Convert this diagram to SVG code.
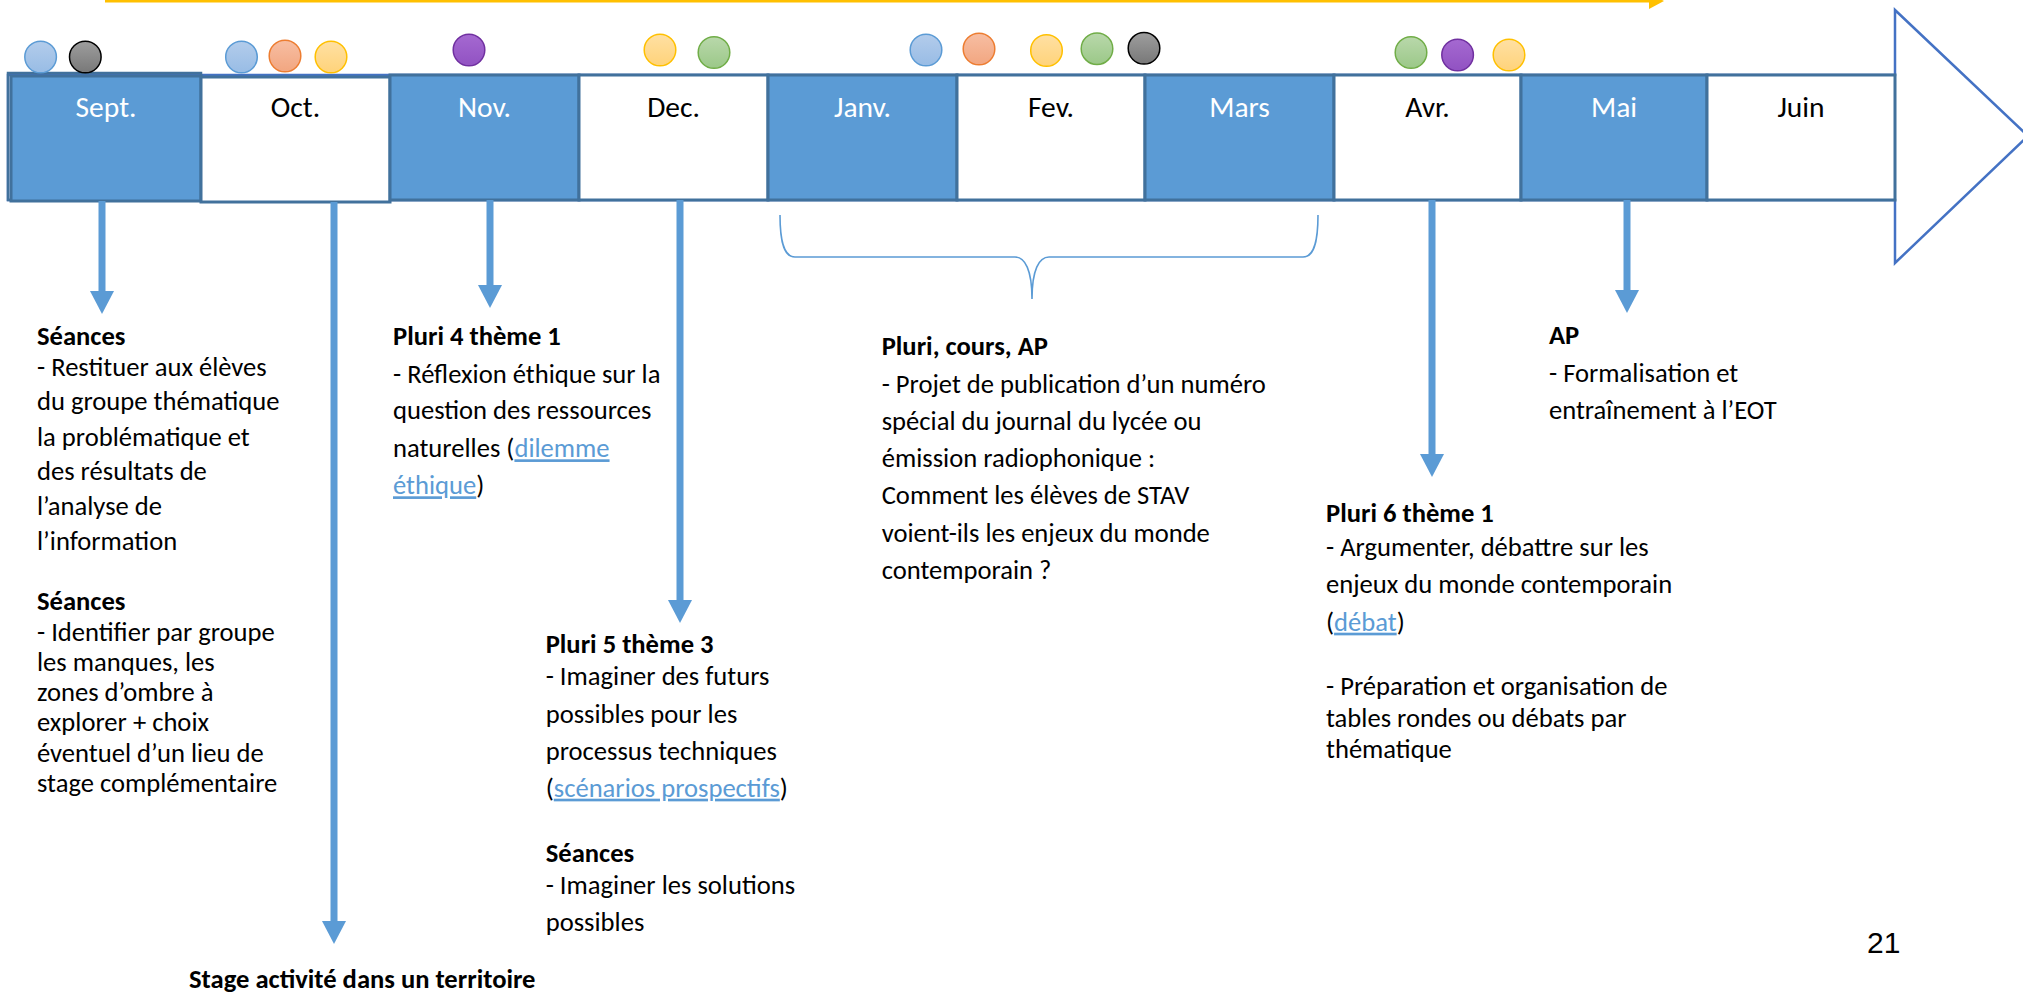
<svg xmlns="http://www.w3.org/2000/svg" width="2023" height="992" viewBox="0 0 2023 992">
<style>
.t{font-family:Carlito,Lato,"Liberation Sans",sans-serif;font-size:26.6px;fill:#000}
.b{font-weight:bold}
.lnk{fill:#5B9BD5;text-decoration:underline}
.m{font-family:Carlito,Lato,"Liberation Sans",sans-serif;font-size:29.5px;text-anchor:middle}
.mw{fill:#fff}.mk{fill:#000}
.bx{fill:#5B9BD5;stroke:#41719C;stroke-width:3}
.wx{fill:#fff;stroke:#41719C;stroke-width:3}
.cn{stroke:#5B9BD5;stroke-width:7;fill:none}
.dot{stroke-width:1.5}
</style>
<defs>
<marker id="ah" markerUnits="userSpaceOnUse" markerWidth="23" markerHeight="24" viewBox="0 0 23 24" refX="1" refY="12" orient="auto">
<path d="M0,0 L23,12 L0,24 z" fill="#5B9BD5"/>
</marker>
<marker id="yh" markerUnits="userSpaceOnUse" markerWidth="15" markerHeight="16" viewBox="0 0 15 16" refX="1" refY="8" orient="auto">
<path d="M0,0 L15,8 L0,16 z" fill="#FFC000"/>
</marker>
<linearGradient id="glb" x1="0" y1="0" x2="0" y2="1"><stop offset="0" stop-color="#B3CCEB"/><stop offset="1" stop-color="#98BCE5"/></linearGradient>
<linearGradient id="ggr" x1="0" y1="0" x2="0" y2="1"><stop offset="0" stop-color="#9E9E9E"/><stop offset="1" stop-color="#787878"/></linearGradient>
<linearGradient id="gor" x1="0" y1="0" x2="0" y2="1"><stop offset="0" stop-color="#F7BEA3"/><stop offset="1" stop-color="#F2A680"/></linearGradient>
<linearGradient id="gye" x1="0" y1="0" x2="0" y2="1"><stop offset="0" stop-color="#FFE0A3"/><stop offset="1" stop-color="#FFD37A"/></linearGradient>
<linearGradient id="ggn" x1="0" y1="0" x2="0" y2="1"><stop offset="0" stop-color="#B9D8AB"/><stop offset="1" stop-color="#9BC888"/></linearGradient>
<linearGradient id="gpu" x1="0" y1="0" x2="0" y2="1"><stop offset="0" stop-color="#A569D1"/><stop offset="1" stop-color="#9152C2"/></linearGradient>
</defs>
<rect width="2023" height="992" fill="#fff"/>

<!-- yellow top arrow -->
<line x1="105" y1="1" x2="1650" y2="1" stroke="#FFC000" stroke-width="3" marker-end="url(#yh)"/>

<!-- timeline arrow -->
<g id="timeline">
<polygon points="8,75 1895,75 1895,10 2028,136 1895,263 1895,200 8,200" fill="#fff" stroke="#4472C4" stroke-width="2.5"/>
<rect x="8" y="73" width="193" height="127" fill="none" stroke="#41719C" stroke-width="2.5"/>
<g id="m-sept"><rect class="bx" x="11" y="76" width="190" height="125"/><text class="m mw" x="106" y="117">Sept.</text></g>
<g id="m-oct"><rect class="wx" x="201" y="77" width="189" height="125"/><text class="m mk" x="295.5" y="117">Oct.</text></g>
<g id="m-nov"><rect class="bx" x="390" y="75" width="189" height="125"/><text class="m mw" x="484.5" y="117">Nov.</text></g>
<g id="m-dec"><rect class="wx" x="579" y="75" width="189" height="125"/><text class="m mk" x="673.5" y="117">Dec.</text></g>
<g id="m-janv"><rect class="bx" x="768" y="75" width="189" height="125"/><text class="m mw" x="862.5" y="117">Janv.</text></g>
<g id="m-fev"><rect class="wx" x="957" y="75" width="188" height="125"/><text class="m mk" x="1051" y="117">Fev.</text></g>
<g id="m-mars"><rect class="bx" x="1145" y="75" width="189" height="125"/><text class="m mw" x="1239.5" y="117">Mars</text></g>
<g id="m-avr"><rect class="wx" x="1334" y="75" width="187" height="125"/><text class="m mk" x="1427.5" y="117">Avr.</text></g>
<g id="m-mai"><rect class="bx" x="1521" y="75" width="186" height="125"/><text class="m mw" x="1614" y="117">Mai</text></g>
<g id="m-juin"><rect class="wx" x="1707" y="75" width="188" height="125"/><text class="m mk" x="1801" y="117">Juin</text></g>
</g>

<!-- dots -->
<g id="dots">
<circle class="dot" cx="40.6" cy="57" r="15.8" fill="url(#glb)" stroke="#5B9BD5"/>
<circle class="dot" cx="85.3" cy="57" r="15.8" fill="url(#ggr)" stroke="#000"/>
<circle class="dot" cx="241.5" cy="57" r="15.8" fill="url(#glb)" stroke="#5B9BD5"/>
<circle class="dot" cx="285" cy="56" r="15.8" fill="url(#gor)" stroke="#ED7D31"/>
<circle class="dot" cx="331" cy="57" r="15.8" fill="url(#gye)" stroke="#FFC000"/>
<circle class="dot" cx="469" cy="50" r="15.8" fill="url(#gpu)" stroke="#7030A0"/>
<circle class="dot" cx="660" cy="50" r="15.8" fill="url(#gye)" stroke="#FFC000"/>
<circle class="dot" cx="714" cy="52.5" r="15.8" fill="url(#ggn)" stroke="#70AD47"/>
<circle class="dot" cx="926" cy="50" r="15.8" fill="url(#glb)" stroke="#5B9BD5"/>
<circle class="dot" cx="979" cy="49" r="15.8" fill="url(#gor)" stroke="#ED7D31"/>
<circle class="dot" cx="1046.5" cy="50.5" r="15.8" fill="url(#gye)" stroke="#FFC000"/>
<circle class="dot" cx="1097" cy="48.7" r="15.8" fill="url(#ggn)" stroke="#70AD47"/>
<circle class="dot" cx="1144" cy="48.3" r="15.8" fill="url(#ggr)" stroke="#000"/>
<circle class="dot" cx="1411" cy="52.5" r="15.8" fill="url(#ggn)" stroke="#70AD47"/>
<circle class="dot" cx="1457.6" cy="55" r="15.8" fill="url(#gpu)" stroke="#7030A0"/>
<circle class="dot" cx="1509" cy="55" r="15.8" fill="url(#gye)" stroke="#FFC000"/>
</g>

<!-- connectors -->
<g id="connectors">
<line class="cn" x1="102" y1="201" x2="102" y2="292" marker-end="url(#ah)"/>
<line class="cn" x1="334" y1="202" x2="334" y2="922" marker-end="url(#ah)"/>
<line class="cn" x1="490" y1="200" x2="490" y2="286" marker-end="url(#ah)"/>
<line class="cn" x1="680" y1="200" x2="680" y2="601" marker-end="url(#ah)"/>
<line class="cn" x1="1432" y1="200" x2="1432" y2="455" marker-end="url(#ah)"/>
<line class="cn" x1="1627" y1="200" x2="1627" y2="291" marker-end="url(#ah)"/>
<path d="M780,215 C780,245 785,257 795,257 L1015,257 C1025,257 1032,270 1032,299 C1032,270 1039,257 1049,257 L1303,257 C1313,257 1318,245 1318,215" fill="none" stroke="#5B9BD5" stroke-width="1.6"/>
</g>

<!-- text nodes -->
<g id="n-sept">
<text class="t b" x="37" y="345">Séances</text>
<text class="t" x="37" y="376">- Restituer aux élèves</text>
<text class="t" x="37" y="410">du groupe thématique</text>
<text class="t" x="37" y="445.5">la problématique et</text>
<text class="t" x="37" y="480">des résultats de</text>
<text class="t" x="37" y="515">l’analyse de</text>
<text class="t" x="37" y="550">l’information</text>
<text class="t b" x="37" y="610">Séances</text>
<text class="t" x="37" y="640.7">- Identifier par groupe</text>
<text class="t" x="37" y="671">les manques, les</text>
<text class="t" x="37" y="701">zones d’ombre à</text>
<text class="t" x="37" y="731">explorer + choix</text>
<text class="t" x="37" y="761.7">éventuel d’un lieu de</text>
<text class="t" x="37" y="791.7">stage complémentaire</text>
</g>
<g id="n-oct">
<text class="t b" x="189" y="988">Stage activité dans un territoire</text>
</g>
<g id="n-nov">
<text class="t b" x="393" y="345">Pluri 4 thème 1</text>
<text class="t" x="393" y="382.7">- Réflexion éthique sur la</text>
<text class="t" x="393" y="419.3">question des ressources</text>
<text class="t" x="393" y="457.3">naturelles (<tspan class="lnk">dilemme</tspan></text>
<text class="t" x="393" y="494.3"><tspan class="lnk">éthique</tspan>)</text>
</g>
<g id="n-dec">
<text class="t b" x="545.7" y="652.7">Pluri 5 thème 3</text>
<text class="t" x="545.7" y="685">- Imaginer des futurs</text>
<text class="t" x="545.7" y="722.7">possibles pour les</text>
<text class="t" x="545.7" y="760">processus techniques</text>
<text class="t" x="545.7" y="796.7">(<tspan class="lnk">scénarios prospectifs</tspan>)</text>
<text class="t b" x="545.7" y="861.7">Séances</text>
<text class="t" x="545.7" y="894">- Imaginer les solutions</text>
<text class="t" x="545.7" y="930.7">possibles</text>
</g>
<g id="n-janv-mars">
<text class="t b" x="881.7" y="355">Pluri, cours, AP</text>
<text class="t" x="881.7" y="392.7">- Projet de publication d’un numéro</text>
<text class="t" x="881.7" y="430">spécial du journal du lycée ou</text>
<text class="t" x="881.7" y="467.3">émission radiophonique :</text>
<text class="t" x="881.7" y="504.3">Comment les élèves de STAV</text>
<text class="t" x="881.7" y="541.7">voient-ils les enjeux du monde</text>
<text class="t" x="881.7" y="579.3">contemporain ?</text>
</g>
<g id="n-avr">
<text class="t b" x="1326" y="521.7">Pluri 6 thème 1</text>
<text class="t" x="1326" y="556">- Argumenter, débattre sur les</text>
<text class="t" x="1326" y="593.3">enjeux du monde contemporain</text>
<text class="t" x="1326" y="630.7">(<tspan class="lnk">débat</tspan>)</text>
<text class="t" x="1326" y="695">- Préparation et organisation de</text>
<text class="t" x="1326" y="726.7">tables rondes ou débats par</text>
<text class="t" x="1326" y="758.3">thématique</text>
</g>
<g id="n-mai">
<text class="t b" x="1549" y="344.3">AP</text>
<text class="t" x="1549" y="381.7">- Formalisation et</text>
<text class="t" x="1549" y="419">entraînement à l’EOT</text>
</g>
<g id="pagenum">
<text x="1867" y="953" font-family="'Liberation Sans',Arial,sans-serif" font-size="30" fill="#000">21</text>
</g>
</svg>
